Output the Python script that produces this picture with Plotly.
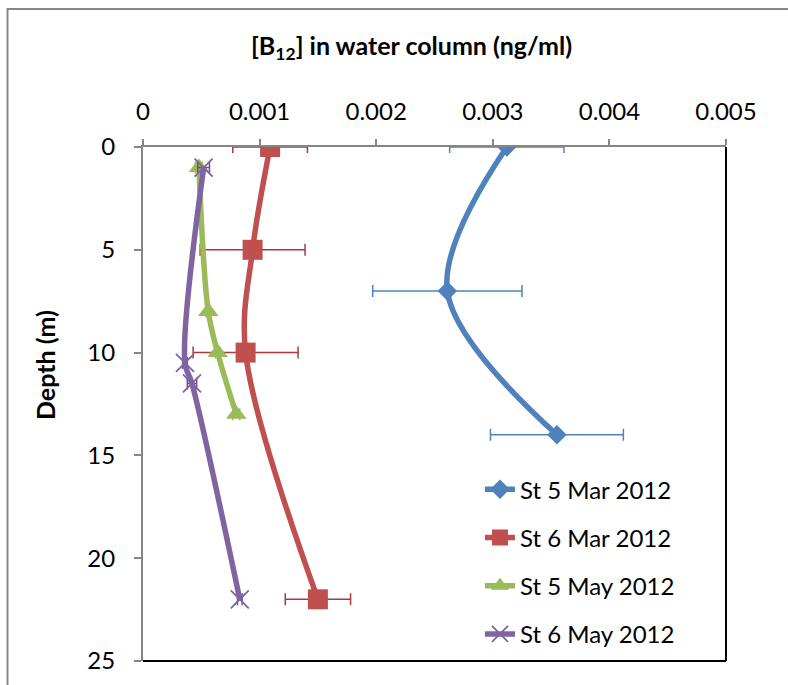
import plotly.graph_objects as go

# Depth profiles of dissolved B12 (ng/ml) with standard deviations
series_names = ["St 5 Mar 2012", "St 6 Mar 2012", "St 5 May 2012", "St 6 May 2012"]

st5_mar_depth = [0, 7, 14]
st5_mar_b12 = [0.00312, 0.00261, 0.00355]
st5_mar_err = [0.00049, 0.00064, 0.00057]

st6_mar_depth = [0, 5, 10, 22]
st6_mar_b12 = [0.00109, 0.00094, 0.00088, 0.00150]
st6_mar_err = [0.00032, 0.00045, 0.00045, 0.00028]

st5_may_depth = [1, 8, 10, 13]
st5_may_b12 = [0.00048, 0.00056, 0.00064, 0.00080]
st5_may_err = [0.00003, 0.00002, 0.00002, 0.00003]

st6_may_depth = [1, 10.5, 11.5, 22]
st6_may_b12 = [0.00052, 0.00036, 0.00042, 0.00083]
st6_may_err = [0.00005, 0.00002, 0.00004, 0.00002]

x_ticks = [0, 0.001, 0.002, 0.003, 0.004, 0.005]
x_tick_labels = ["0", "0.001", "0.002", "0.003", "0.004", "0.005"]
y_ticks = [0, 5, 10, 15, 20, 25]
y_tick_labels = ["0", "5", "10", "15", "20", "25"]

FONT = "Lato, 'Open Sans', sans-serif"

styles = [
    dict(color="#4F81BD", err="#4F81BD", symbol="diamond", size=15, mline=0),
    dict(color="#C0504D", err="#A83A3A", symbol="square", size=20, mline=0),
    dict(color="#9BBB59", err="#9BBB59", symbol="triangle-up", size=18, mline=0),
    dict(color="#8064A2", err="#6A4F8C", symbol="x-thin-open", size=18, mline=1.8),
]

data = [
    (st5_mar_b12, st5_mar_depth, st5_mar_err),
    (st6_mar_b12, st6_mar_depth, st6_mar_err),
    (st5_may_b12, st5_may_depth, st5_may_err),
    (st6_may_b12, st6_may_depth, st6_may_err),
]

fig = go.Figure()
for i, (name, (xv, yv, ev), st) in enumerate(zip(series_names, data, styles)):
    marker = dict(symbol=st["symbol"], size=st["size"], color=st["color"])
    if st["mline"]:
        marker["line"] = dict(color=st["color"], width=st["mline"])
    else:
        marker["line"] = dict(width=0)
    fig.add_trace(go.Scatter(
        x=xv, y=yv, name=name, mode="lines+markers",
        line=dict(color=st["color"], width=5.5, shape="spline", smoothing=1),
        marker=marker,
        error_x=dict(type="data", array=ev, visible=True,
                     color=st["err"], thickness=1.5, width=6),
        legendgroup=f"g{i}",
    ))

axis_font = dict(family=FONT, size=24, color="#000000")

fig.update_layout(
    width=788, height=685,
    margin=dict(l=143, r=62, t=147, b=24),
    paper_bgcolor="white", plot_bgcolor="white",
    font=dict(family=FONT, size=24, color="#000000"),
    showlegend=True,
    legend=dict(
        x=0.578, y=0.377, xanchor="left", yanchor="top",
        bgcolor="rgba(0,0,0,0)", borderwidth=0,
        font=dict(family=FONT, size=24, color="#000000"),
        tracegroupgap=14, traceorder="grouped",
    ),
    xaxis=dict(
        side="top", range=[0, 0.005],
        tickvals=x_ticks, ticktext=x_tick_labels,
        tickfont=axis_font, ticks="outside", ticklen=6, tickwidth=1.5,
        tickcolor="#868686", showline=True, linecolor="#868686", linewidth=2,
        showgrid=False, zeroline=False, ticklabelstandoff=9,
    ),
    yaxis=dict(
        range=[25, 0],
        tickvals=y_ticks, ticktext=y_tick_labels,
        tickfont=axis_font, ticks="outside", ticklen=7, tickwidth=1.5,
        tickcolor="#868686", showline=True, linecolor="#868686", linewidth=2,
        showgrid=False, zeroline=False, ticklabelstandoff=14,
    ),
)

# Plot-area border on the right and bottom
fig.add_shape(type="line", xref="paper", yref="paper", x0=1, x1=1, y0=0, y1=1,
              line=dict(color="#000000", width=2))
fig.add_shape(type="line", xref="paper", yref="paper", x0=0, x1=1, y0=0, y1=0,
              line=dict(color="#000000", width=2))
# Chart frame
fig.add_shape(type="rect", xref="paper", yref="paper",
              x0=-0.2324, x1=1.2, y0=-0.1, y1=1.2685,
              line=dict(color="#888888", width=2), layer="below")

fig.add_annotation(
    text="<b>[B<sub>12</sub>] in water column (ng/ml)</b>",
    xref="paper", yref="paper", x=0.46, y=1.1946,
    xanchor="center", yanchor="middle", showarrow=False,
    font=dict(family=FONT, size=25, color="#000000"),
)
fig.add_annotation(
    text="<b>Depth (m)</b>",
    xref="paper", yref="paper", x=-0.168, y=0.576,
    xanchor="center", yanchor="middle", showarrow=False, textangle=-90,
    font=dict(family=FONT, size=25, color="#000000"),
)

fig.write_html("out.html")
